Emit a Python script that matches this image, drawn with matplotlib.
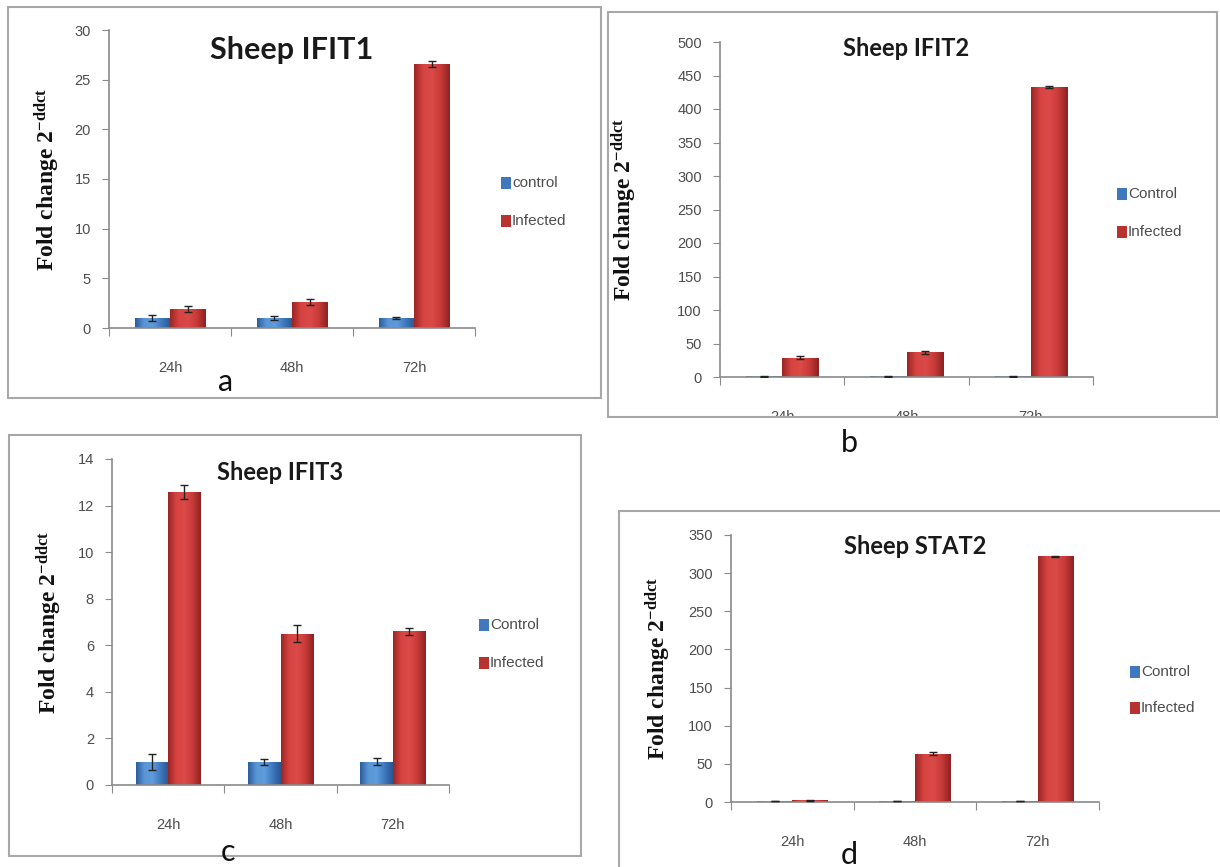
import numpy as np
import matplotlib
matplotlib.use('Agg')
import matplotlib.pyplot as plt
from matplotlib.patches import Rectangle
from matplotlib.colors import LinearSegmentedColormap

plt.rcParams['mathtext.fontset'] = 'custom'
plt.rcParams['mathtext.rm'] = 'Liberation Serif:bold'
plt.rcParams['mathtext.it'] = 'Liberation Serif:bold'
plt.rcParams['mathtext.bf'] = 'Liberation Serif:bold'

times = ['24h', '48h', '72h']

# panel a - IFIT1
ifit1_ctrl = [1.0, 1.0, 1.0]
ifit1_ctrl_err = [0.3, 0.2, 0.1]
ifit1_inf = [1.9, 2.6, 26.6]
ifit1_inf_err = [0.3, 0.3, 0.3]

# panel b - IFIT2
ifit2_ctrl = [1.0, 1.0, 1.0]
ifit2_ctrl_err = [0.3, 0.3, 0.3]
ifit2_inf = [29, 37, 433]
ifit2_inf_err = [2, 2, 2]

# panel c - IFIT3
ifit3_ctrl = [1.0, 1.0, 1.0]
ifit3_ctrl_err = [0.35, 0.12, 0.15]
ifit3_inf = [12.6, 6.5, 6.6]
ifit3_inf_err = [0.3, 0.35, 0.15]

# panel d - STAT2
stat2_ctrl = [1.0, 1.0, 1.0]
stat2_ctrl_err = [0.3, 0.3, 0.3]
stat2_inf = [2.0, 63, 322]
stat2_inf_err = [1, 2, 1]

red_cmap = LinearSegmentedColormap.from_list('r', ['#9c2626', '#d64442', '#dc4a48', '#c73a38', '#8e2222'])
blue_cmap = LinearSegmentedColormap.from_list('b', ['#2c5d9c', '#5a96d6', '#5f9cdc', '#3f78bd', '#2a5790'])

GRAY = '#8a8a8a'
TXT = '#4d4d4d'
NARROW = ['Liberation Sans Narrow', 'Liberation Sans', 'DejaVu Sans']

W, H = 1220, 867
fig = plt.figure(figsize=(12.2, 8.67), dpi=100)


def box(x, y):
    # pixel coords -> figure fraction
    return x / W, 1 - y / H


def shade(ax, bars, cmap):
    grad = np.linspace(0, 1, 64).reshape(1, -1)
    for b in bars:
        x0, y0 = b.get_x(), b.get_y()
        w, h = b.get_width(), b.get_height()
        im = ax.imshow(grad, cmap=cmap, aspect='auto',
                       extent=(x0, x0 + w, y0, y0 + h), zorder=2)
        im.set_clip_path(b)


def panel(rect_px, ctrl, ctrl_err, inf, inf_err, ymax, ystep, title, tsize, title_y,
          ylab_x, ctrl_name, leg_px):
    x0, y0, x1, y1 = rect_px
    l, t = box(x0, y0)
    r, b = box(x1, y1)
    ax = fig.add_axes([l, b, r - l, t - b])
    x = np.arange(len(times))
    w = 0.29
    bc = ax.bar(x - w / 2, ctrl, w, color='#4a7fc4', zorder=1)
    bi = ax.bar(x + w / 2, inf, w, color='#c83c3a', zorder=1)
    shade(ax, bc, blue_cmap)
    shade(ax, bi, red_cmap)
    ax.errorbar(x - w / 2, ctrl, yerr=ctrl_err, fmt='none', ecolor='#222222',
                elinewidth=1, capsize=3, zorder=3)
    ax.errorbar(x + w / 2, inf, yerr=inf_err, fmt='none', ecolor='#222222',
                elinewidth=1, capsize=3, zorder=3)
    ax.set_xlim(-0.5, 2.5)
    ax.set_ylim(0, ymax)
    ax.set_yticks(np.arange(0, ymax + ystep / 2, ystep))
    ax.set_xticks([-0.5, 0.5, 1.5, 2.5])
    ax.set_xticklabels([])
    ax.set_xticks(x, minor=True)
    ax.set_xticklabels(times, minor=True, fontsize=10.5, color=TXT, family=NARROW)
    ax.tick_params(axis='x', which='major', length=6, color=GRAY, direction='out')
    ax.tick_params(axis='x', which='minor', length=0, pad=24)
    ax.tick_params(axis='y', length=5, color=GRAY, pad=8, labelsize=10.5, labelcolor=TXT)
    for lab in ax.get_yticklabels():
        lab.set_family(NARROW)
    for s in ['top', 'right']:
        ax.spines[s].set_visible(False)
    for s in ['left', 'bottom']:
        ax.spines[s].set_color(GRAY)
        ax.spines[s].set_linewidth(1.2)
    ax.patch.set_alpha(0)
    ax.text(0.5, (y1 - title_y) / (y1 - y0), title, transform=ax.transAxes,
            fontsize=tsize, fontweight='bold', family='Lato', color='#1a1a1a',
            ha='center', va='center')
    ax.set_ylabel(r'Fold change 2$^{-ddct}$', family='Liberation Serif',
                  fontweight='bold', fontsize=17, color='#111111')
    ax.yaxis.label.set_va('center')
    ax.yaxis.set_label_coords((ylab_x - x0) / (x1 - x0), 0.5)
    # legend
    lx, ly1, ly2 = leg_px
    for yy, col, name in [(ly1, '#3f78bd', ctrl_name), (ly2, '#b83230', 'Infected')]:
        fx, fy = box(lx, yy)
        fig.add_artist(Rectangle((fx - 5 / W, fy - 6 / H), 10 / W, 12 / H,
                                 transform=fig.transFigure, facecolor=col,
                                 edgecolor='none'))
        fig.text(fx + 6 / W, fy, name, fontsize=11, color=TXT, va='center',
                 family=NARROW)
    return ax


def border(x0, y0, x1, y1):
    fx0, fy0 = box(x0, y0)
    fx1, fy1 = box(x1, y1)
    fig.add_artist(Rectangle((fx0, fy1), fx1 - fx0, fy0 - fy1, transform=fig.transFigure,
                             fill=False, edgecolor='#a8a8a8', linewidth=1.5, zorder=5))


panel((109, 30, 475, 328), ifit1_ctrl, ifit1_ctrl_err, ifit1_inf, ifit1_inf_err,
      30, 5, 'Sheep IFIT1', 22, 50, 47, 'control', (506, 183, 221))
panel((720, 42, 1093, 377), ifit2_ctrl, ifit2_ctrl_err, ifit2_inf, ifit2_inf_err,
      500, 50, 'Sheep IFIT2', 17, 48, 624, 'Control', (1122, 194, 232))
panel((112, 459, 449, 785), ifit3_ctrl, ifit3_ctrl_err, ifit3_inf, ifit3_inf_err,
      14, 2, 'Sheep IFIT3', 17, 472, 49, 'Control', (484, 625, 663))
panel((731, 535, 1099, 802), stat2_ctrl, stat2_ctrl_err, stat2_inf, stat2_inf_err,
      350, 50, 'Sheep STAT2', 17, 547, 658, 'Control', (1135, 672, 708))

# white strip hiding the clipped tick labels under panel b
fx0, fy0 = box(606, 417)
fx1, fy1 = box(1219, 432)
fig.add_artist(Rectangle((fx0, fy1), fx1 - fx0, fy0 - fy1, transform=fig.transFigure,
                         facecolor='white', edgecolor='none', zorder=4))

border(8, 7, 601, 398)
border(608, 12, 1217, 417)
border(9, 435, 581, 856)
border(619, 511, 1240, 890)

for lab, (px, py) in zip(['a', 'b', 'c', 'd'], [(226, 382), (849, 443), (228, 852), (849, 855)]):
    fx, fy = box(px, py)
    fig.text(fx, fy, lab, fontsize=22, family='Lato', ha='center', va='center',
             color='#111111', zorder=6)

fig.savefig('out.png', dpi=100, facecolor='white')
